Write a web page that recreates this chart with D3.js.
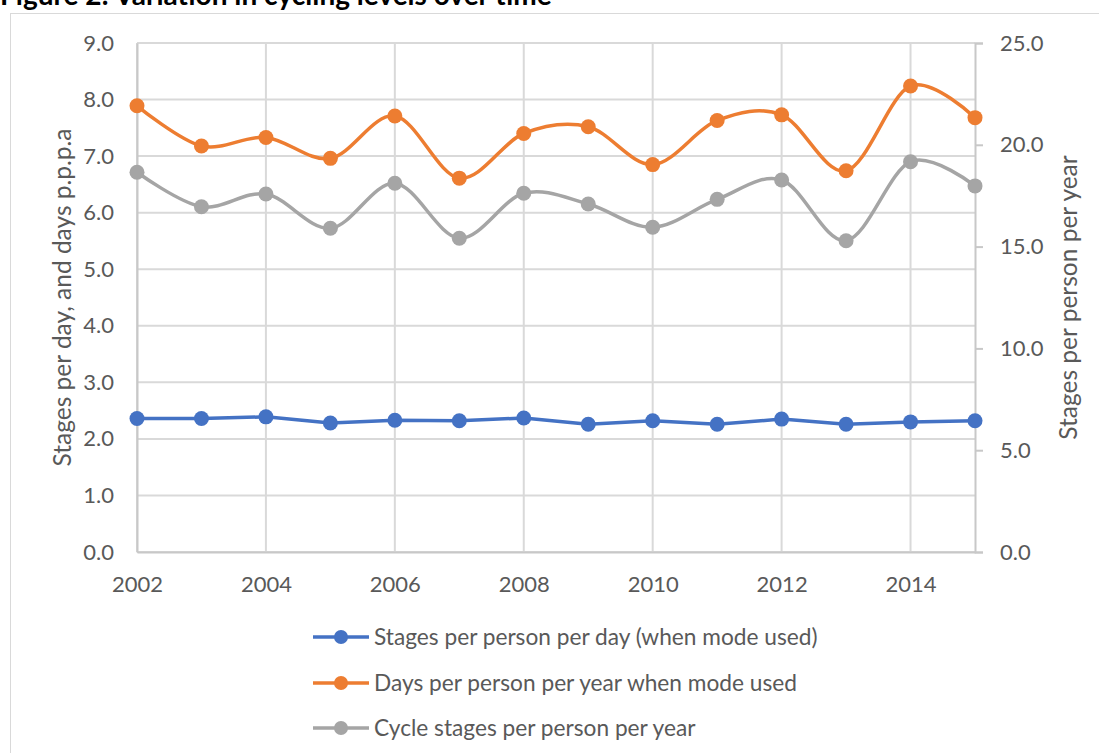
<!DOCTYPE html>
<html><head><meta charset="utf-8">
<script src="https://cdn.jsdelivr.net/npm/d3@7"></script>
<style>
html,body{margin:0;padding:0;background:#fff;overflow:hidden;}
text{font-family:Lato,"Open Sans",sans-serif;}
</style></head>
<body>
<svg id="chart" width="1099" height="753"></svg>
<script>
const years = [2002,2003,2004,2005,2006,2007,2008,2009,2010,2011,2012,2013,2014,2015];
const stagesPerDay = [2.36,2.36,2.39,2.28,2.33,2.32,2.37,2.26,2.32,2.26,2.35,2.26,2.30,2.32];
const daysPerYear = [7.89,7.18,7.33,6.96,7.71,6.61,7.40,7.52,6.85,7.63,7.73,6.74,8.24,7.68];
const stagesPerYear = [18.65,16.96,17.58,15.90,18.11,15.41,17.62,17.09,15.95,17.32,18.27,15.29,19.17,17.98];
const leftTicks = [0,1,2,3,4,5,6,7,8,9];
const rightTicks = [0,5,10,15,20,25];
const xTicks = [2002,2004,2006,2008,2010,2012,2014];
const seriesNames = ["Stages per person per day (when mode used)","Days per person per year when mode used","Cycle stages per person per year"];
const colors = ["#4472C4","#ED7D31","#A5A5A5"];

const svg = d3.select("#chart");
const plot = {l:137, r:975, t:43, b:552};

// frame + title
svg.append("rect").attr("x",10.5).attr("y",13.5).attr("width",1200).attr("height",900)
  .attr("fill","#fff").attr("stroke","#d9d9d9").attr("stroke-width",1);
svg.append("text").attr("x",0).attr("y",5).attr("font-size",28).attr("font-weight","bold")
  .attr("fill","#000").text("Figure 2: Variation in cycling levels over time");

const x = d3.scaleLinear().domain([2002,2015]).range([plot.l,plot.r]);
const yL = d3.scaleLinear().domain([0,9]).range([plot.b,plot.t]);
const yR = d3.scaleLinear().domain([0,25]).range([plot.b,plot.t]);

const g = svg.append("g");
g.append("g").selectAll("line").data(leftTicks).join("line")
  .attr("x1",plot.l).attr("x2",plot.r).attr("y1",d=>yL(d)).attr("y2",d=>yL(d))
  .attr("stroke","#d9d9d9").attr("stroke-width",2);
g.append("g").selectAll("line").data(xTicks).join("line")
  .attr("x1",d=>x(d)).attr("x2",d=>x(d)).attr("y1",plot.t).attr("y2",plot.b)
  .attr("stroke","#d9d9d9").attr("stroke-width",2);

const tickFont = 22;
const axL = d3.axisLeft(yL).tickValues(leftTicks).tickFormat(d3.format(".1f")).tickSize(0).tickPadding(23);
const gL = g.append("g").attr("transform",`translate(${plot.l},0)`).call(axL);
gL.select(".domain").attr("stroke","#c8c8c8").attr("stroke-width",2);
gL.selectAll("text").attr("font-size",tickFont).attr("fill","#595959").attr("font-family","Lato");

const axB = d3.axisBottom(x).tickValues(xTicks).tickFormat(d3.format("d")).tickSize(0).tickPadding(24);
const gB = g.append("g").attr("transform",`translate(0,${plot.b})`).call(axB);
gB.select(".domain").attr("stroke","#c8c8c8").attr("stroke-width",2);
gB.selectAll("text").attr("font-size",tickFont).attr("fill","#595959").attr("font-family","Lato");

const axR = d3.axisRight(yR).tickValues(rightTicks).tickFormat(d3.format(".1f")).tickSize(8).tickPadding(17);
const gR = g.append("g").attr("transform",`translate(${plot.r},0)`).call(axR);
gR.select(".domain").attr("stroke","#c8c8c8").attr("stroke-width",2);
gR.selectAll(".tick line").attr("stroke","#c8c8c8").attr("stroke-width",2);
gR.selectAll("text").attr("font-size",tickFont).attr("fill","#595959").attr("font-family","Lato");

svg.append("text").attr("transform",`translate(71,${(plot.t+plot.b)/2}) rotate(-90)`)
  .attr("text-anchor","middle").attr("font-size",24.5).attr("fill","#595959")
  .text("Stages per day, and days p.p.p.a");
svg.append("text").attr("transform",`translate(1077,${(plot.t+plot.b)/2}) rotate(-90)`)
  .attr("text-anchor","middle").attr("font-size",24.5).attr("fill","#595959")
  .text("Stages per person per year");

const series = [
  {vals:stagesPerDay, y:yL, curve:d3.curveLinear, c:colors[0]},
  {vals:daysPerYear, y:yL, curve:d3.curveCardinal.tension(0), c:colors[1]},
  {vals:stagesPerYear, y:yR, curve:d3.curveCardinal.tension(0), c:colors[2]}
];
[0,2,1].forEach(i=>{
  const s = series[i];
  const pts = years.map((yr,j)=>[yr,s.vals[j]]);
  const line = d3.line().x(d=>x(d[0])).y(d=>s.y(d[1])).curve(s.curve);
  g.append("path").datum(pts).attr("d",line).attr("fill","none")
    .attr("stroke",s.c).attr("stroke-width",3.5).attr("stroke-linejoin","round").attr("stroke-linecap","round");
  g.append("g").selectAll("circle").data(pts).join("circle")
    .attr("cx",d=>x(d[0])).attr("cy",d=>s.y(d[1])).attr("r",7.5).attr("fill",s.c);
});

const legY = [637,683,728];
const leg = svg.append("g");
seriesNames.forEach((name,i)=>{
  const lg = leg.append("g").attr("transform",`translate(0,${legY[i]})`);
  lg.append("line").attr("x1",313).attr("x2",369).attr("y1",0).attr("y2",0)
    .attr("stroke",colors[i]).attr("stroke-width",3.5);
  lg.append("circle").attr("cx",341).attr("cy",0).attr("r",7).attr("fill",colors[i]);
  lg.append("text").attr("x",374).attr("y",0).attr("dy","0.35em").attr("font-size",22.7)
    .attr("fill","#595959").text(name);
});
</script>
</body></html>
